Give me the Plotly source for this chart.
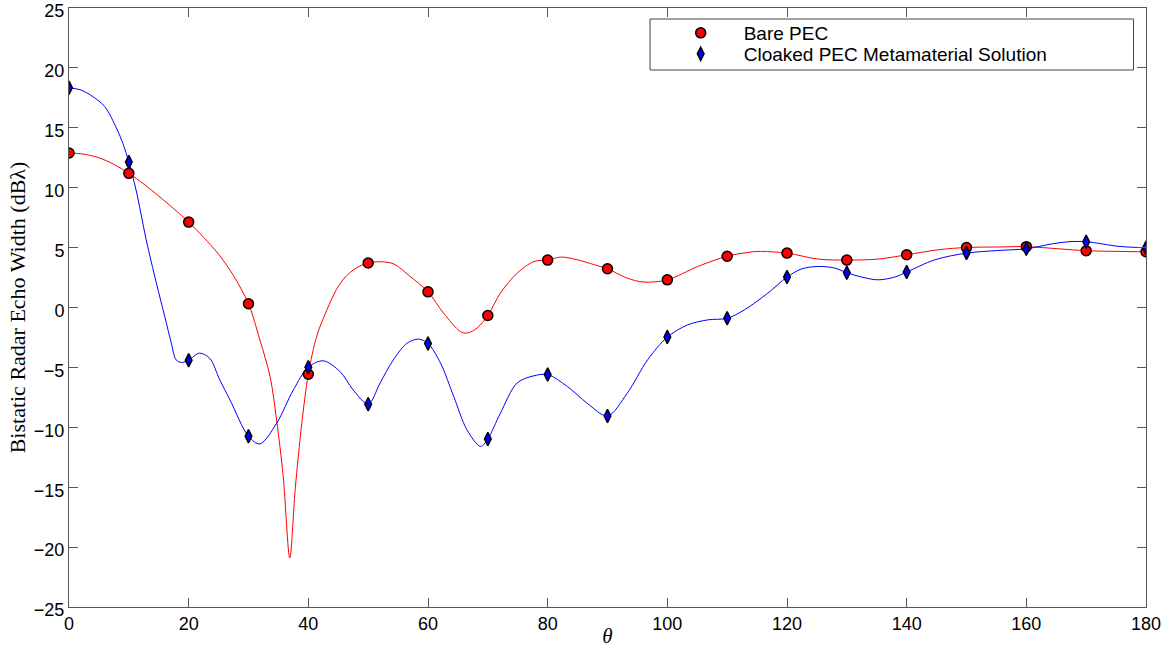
import plotly.graph_objects as go

# Sampled observation angles (degrees)
theta = [0, 10, 20, 30, 40, 50, 60, 70, 80, 90, 100, 110, 120, 130, 140, 150, 160, 170, 180]

# Bistatic echo width at the sampled angles (dB lambda)
bare_pec = [12.9, 11.2, 7.13, 0.31, -5.57, 3.71, 1.31, -0.67, 3.96, 3.23, 2.31, 4.28, 4.54,
            3.96, 4.40, 5.01, 5.08, 4.74, 4.65]
cloaked = [18.35, 12.15, -4.4, -10.75, -4.98, -8.07, -3.0, -10.97, -5.6, -9.05, -2.47, -0.9,
           2.54, 2.9, 2.96, 4.54, 4.9, 5.49, 4.99]

# Continuous solution curves
bare_theta = [0, 2.5, 5, 7.5, 10, 12.5, 15, 17.5, 20, 22.5, 25, 27.5, 30, 31.9, 33.6, 34.7,
              35.8, 36.9, 37.8, 38.9, 40, 41.4, 43.1, 44.7, 46.2, 48, 50, 52, 54.2, 57, 60,
              62.6, 65.4, 66.5, 68.2, 70, 72.1, 74.9, 77.7, 80, 82.2, 85, 87.8, 90, 93.3,
              96.1, 100, 105.1, 110, 113.5, 115.1, 120, 125.2, 130, 135.2, 140, 145.3, 150,
              155.3, 160, 165.4, 170, 175.5, 180]
bare_curve = [12.9, 12.8, 12.5, 11.95, 11.2, 10.3, 9.3, 8.25, 7.13, 5.85, 4.45, 2.65, 0.31,
              -2.7, -5.76, -9.4, -14.1, -20.9, -15.2, -9.7, -5.57, -2.4, -0.2, 1.5, 2.55, 3.3,
              3.71, 3.82, 3.65, 2.6, 1.31, -0.47, -2.0, -2.14, -1.72, -0.67, 1.2, 2.87, 3.84,
              3.96, 4.21, 3.98, 3.57, 3.23, 2.45, 2.12, 2.31, 3.43, 4.28, 4.6, 4.68, 4.54,
              4.04, 3.96, 4.04, 4.40, 4.82, 5.01, 5.05, 5.08, 4.9, 4.74, 4.68, 4.65]

cloak_theta = [0, 2, 4, 6, 8, 9, 10, 11.2, 12.9, 14.6, 16.0, 17.1, 17.9, 18.8, 20, 21.8, 23.5,
               25.2, 26.9, 30, 31.9, 34.7, 37.5, 40, 42.5, 45.3, 47.5, 50, 52, 54.2, 56.5,
               58.4, 60, 62.1, 64.3, 66.5, 68.8, 70, 72.1, 74.9, 77.7, 80, 83.3, 86.6, 90,
               93.3, 96.7, 100, 103.4, 106.8, 110, 112.9, 116.8, 120, 122.4, 125.2, 128, 130,
               132.5, 135.2, 138, 140, 144.7, 150, 155.3, 160, 164.4, 167.1, 170, 175.5, 180]
cloak_curve = [18.35, 18.15, 17.6, 16.75, 14.9, 13.7, 12.15, 9.83, 5.66, 2.04, -0.75, -2.97,
               -4.37, -4.59, -4.4, -3.81, -4.23, -6.04, -7.71, -10.75, -11.39, -9.66, -6.88,
               -4.98, -4.45, -5.35, -6.88, -8.07, -6.3, -4.37, -2.98, -2.64, -3.0, -4.65,
               -7.43, -10.2, -11.6, -10.97, -8.82, -6.3, -5.7, -5.6, -6.6, -7.99, -9.05,
               -7.15, -4.37, -2.47, -1.45, -1.03, -0.9, -0.19, 1.2, 2.54, 3.21, 3.43, 3.29,
               2.9, 2.54, 2.31, 2.54, 2.96, 3.98, 4.54, 4.76, 4.9, 5.32, 5.49, 5.49, 5.1, 4.99]

x_ticks = [0, 20, 40, 60, 80, 100, 120, 140, 160, 180]
y_ticks = [-25, -20, -15, -10, -5, 0, 5, 10, 15, 20, 25]

fig = go.Figure()

fig.add_trace(go.Scatter(x=bare_theta, y=bare_curve, mode="lines", showlegend=False,
                         line=dict(color="#ff0000", width=1, shape="spline", smoothing=0.9),
                         hoverinfo="skip"))
fig.add_trace(go.Scatter(x=cloak_theta, y=cloak_curve, mode="lines", showlegend=False,
                         line=dict(color="#0000ff", width=1, shape="spline", smoothing=0.9),
                         hoverinfo="skip"))
fig.add_trace(go.Scatter(x=theta, y=bare_pec, mode="markers", name="Bare PEC",
                         legend="legend",
                         marker=dict(symbol="circle", size=10, color="#ff0000",
                                     line=dict(color="black", width=1.5))))
fig.add_trace(go.Scatter(x=theta, y=cloaked, mode="markers",
                         name="Cloaked PEC Metamaterial Solution", legend="legend2",
                         marker=dict(symbol="diamond-tall", size=9.5, color="#0000ff",
                                     line=dict(color="black", width=1.5))))

axis_color = "#555555"
fig.update_xaxes(range=[0, 180], tickvals=x_ticks, ticks="inside", ticklen=9,
                 tickcolor=axis_color, showline=True, linecolor=axis_color, linewidth=1,
                 mirror="ticks", showgrid=False, zeroline=False, automargin=False,
                 tickfont=dict(family="Liberation Sans", size=18, color="black"),
                 title=dict(text="<i>θ</i>", standoff=6,
                            font=dict(family="Liberation Serif", size=21, color="black")))
fig.update_yaxes(range=[-25, 25], tickvals=y_ticks, ticks="inside", ticklen=9,
                 tickcolor=axis_color, showline=True, linecolor=axis_color, linewidth=1,
                 mirror="ticks", showgrid=False, zeroline=False, automargin=False,
                 ticklabeloverflow="allow", ticklabelshift=3,
                 tickfont=dict(family="Liberation Sans", size=18, color="black"),
                 title=dict(text="Bistatic Radar Echo Width (dBλ)", standoff=2,
                            font=dict(family="Liberation Serif", size=22, color="black")))

# Legend frame
fig.add_shape(type="rect", xref="paper", yref="paper", x0=0.5395, x1=0.9884,
              y0=0.8965, y1=0.9816, line=dict(color="#444444", width=1),
              fillcolor="white", layer="above")

legend_style = dict(xanchor="left", yanchor="middle", itemwidth=76,
                    bgcolor="rgba(0,0,0,0)", borderwidth=0,
                    font=dict(family="Liberation Sans", size=19, color="black"))

fig.update_layout(
    width=1167, height=648,
    margin=dict(l=69, r=21, t=8, b=41, autoexpand=False),
    plot_bgcolor="white", paper_bgcolor="white",
    legend=dict(x=0.5466, y=0.9583, **legend_style),
    legend2=dict(x=0.5466, y=0.9232, **legend_style),
)

fig.write_html("out.html")
